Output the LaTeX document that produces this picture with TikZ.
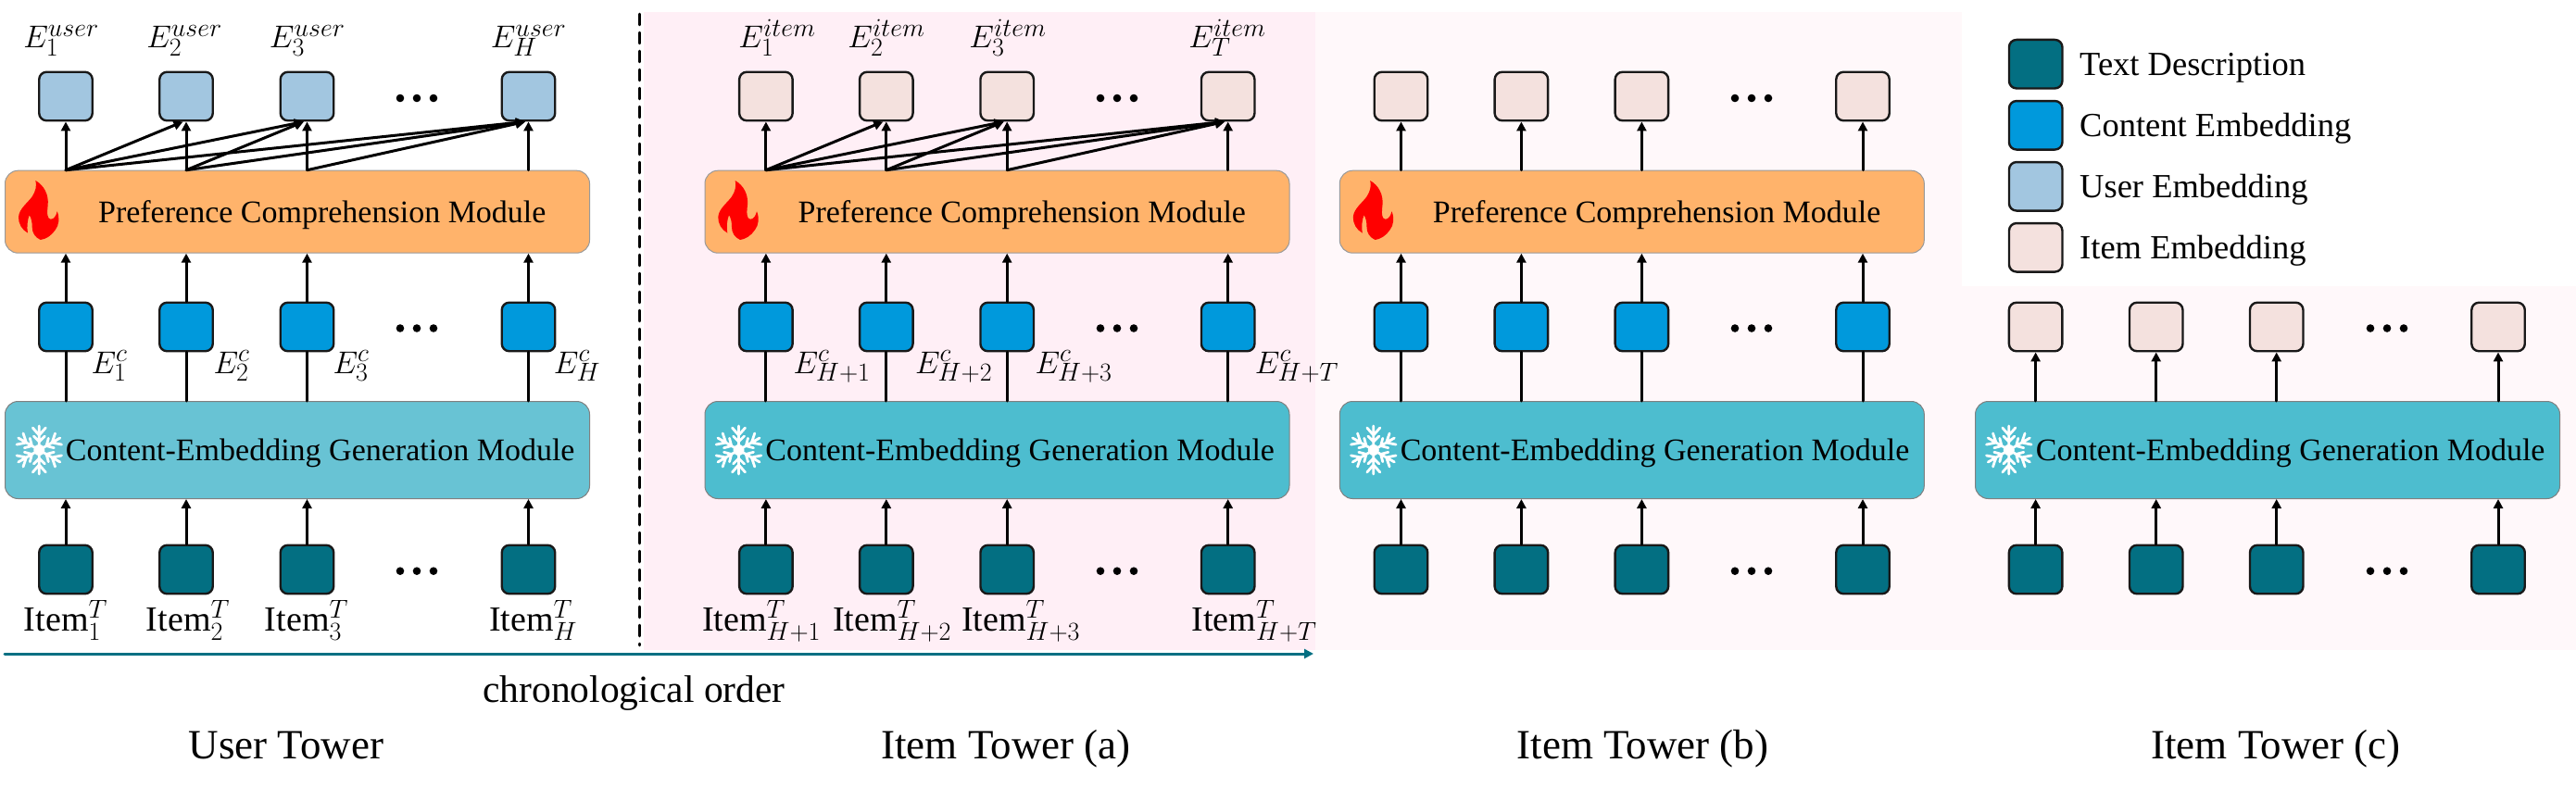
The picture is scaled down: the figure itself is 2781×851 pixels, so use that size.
\documentclass[tikz,border=0pt]{standalone}
\usepackage{fix-cm}
\usepackage{fontspec}
\setmainfont{Liberation Serif}
\usetikzlibrary{arrows.meta}
\DeclareMathSizes{34}{34}{28}{20}
\DeclareMathSizes{38}{38}{28}{20}
\definecolor{txtcol}{HTML}{036F82}
\definecolor{contcol}{HTML}{0099DC}
\definecolor{usercol}{HTML}{A2C6E0}
\definecolor{itemcol}{HTML}{F4E1DE}
\definecolor{pccol}{HTML}{FFB36B}
\definecolor{cgcol}{HTML}{4DBDCF}
\definecolor{cguser}{HTML}{68C3D4}
\definecolor{pinka}{HTML}{FFEFF6}
\definecolor{pinkb}{HTML}{FFF8FA}
\tikzset{
  cell/.style={draw=black!90,line width=2.4pt,rounded corners=8pt,minimum width=57.5pt,minimum height=52.5pt,inner sep=0pt},
  txtcell/.style={cell,fill=txtcol},
  contcell/.style={cell,fill=contcol},
  usercell/.style={cell,fill=usercol},
  itemcell/.style={cell,fill=itemcol},
  pcmod/.style={draw=black!40,line width=1pt,rounded corners=14pt,fill=pccol,minimum height=89pt,inner ysep=0pt,inner xsep=47pt,text width=537pt,align=flush right,text depth=0pt,font=\fontsize{34}{40}\selectfont},
  cgmod/.style={draw=black!50,line width=1pt,rounded corners=14pt,fill=cgcol,minimum height=105pt,inner ysep=0pt,inner xsep=16pt,text width=599pt,align=flush right,text depth=0pt,font=\fontsize{34}{40}\selectfont},
  lbl/.style={anchor=base,inner sep=0pt,font=\fontsize{34}{40}\selectfont},
  itm/.style={anchor=base,inner sep=0pt,font=\fontsize{38}{42}\selectfont},
  towercap/.style={anchor=base,inner sep=0pt,font=\fontsize{45}{50}\selectfont},
  leg/.style={anchor=base west,inner sep=0pt,font=\fontsize{36.5}{42}\selectfont},
  arw/.style={->,line width=3pt},
  lin/.style={line width=3pt},
  flame/.pic={
    \fill [red] (-3.3,-32.3) .. controls (6,-27) and (11,-17) .. (10,-6) .. controls (9,3) and (9,9) .. (13,9.5) .. controls (17,9.5) and (19,5) .. (20,1) .. controls (23,8) and (22,16) .. (18,21) .. controls (14,27) and (8,31) .. (2,31.7) .. controls (-4,29) and (-7,24) .. (-7,18) .. controls (-7,12) and (-8,8) .. (-10,5) .. controls (-12,10) and (-13,18) .. (-11.7,24.3) .. controls (-18,21) and (-22,14) .. (-21.7,7) .. controls (-21,-2) and (-12,-8) .. (-7,-15) .. controls (-3,-21) and (-2,-27) .. (-3.3,-32.3) -- cycle;
  },
  snowflake/.pic={
    \fill [white] (0,0) circle (6);
    \draw [white,line width=2.8pt,rotate=0] (0,0)--(0,-26) (-7,-24)--(0,-16)--(7,-24) (-6,-15)--(0,-9)--(6,-15);
    \draw [white,line width=2.8pt,rotate=60] (0,0)--(0,-26) (-7,-24)--(0,-16)--(7,-24) (-6,-15)--(0,-9)--(6,-15);
    \draw [white,line width=2.8pt,rotate=120] (0,0)--(0,-26) (-7,-24)--(0,-16)--(7,-24) (-6,-15)--(0,-9)--(6,-15);
    \draw [white,line width=2.8pt,rotate=180] (0,0)--(0,-26) (-7,-24)--(0,-16)--(7,-24) (-6,-15)--(0,-9)--(6,-15);
    \draw [white,line width=2.8pt,rotate=240] (0,0)--(0,-26) (-7,-24)--(0,-16)--(7,-24) (-6,-15)--(0,-9)--(6,-15);
    \draw [white,line width=2.8pt,rotate=300] (0,0)--(0,-26) (-7,-24)--(0,-16)--(7,-24) (-6,-15)--(0,-9)--(6,-15);
  },
  threedots/.pic={
    \fill [black] (-18,0) circle (4.3) (0,0) circle (4.3) (18,0) circle (4.3);
  }
}

\begin{document}
\begin{tikzpicture}[line cap=round,line join=round,>={Triangle[length=10pt,width=10pt]},x=1pt,y=-1pt]
\useasboundingbox (0,0) rectangle (2781,851);
% tinted panels
\fill [pinka] (694.5,12.7) rectangle (1420,701.7);
\fill [pinkb] (1420,12.7) rectangle (2118,701.7);
\fill [pinkb] (2118,309.3) rectangle (2781,701.7);
\draw [black,line width=2.5pt,dash pattern=on 12pt off 8pt] (690.5,15)-- (690.5,697);

% modules
\node (pcu) at (321,228.7) [pcmod] {Preference Comprehension Module};
\node (pca) at (1076.5,228.7) [pcmod] {Preference Comprehension Module};
\node (pcb) at (1761.8,228.7) [pcmod] {Preference Comprehension Module};
\node (cgu) at (321,486) [cgmod,fill=cguser] {Content-Embedding Generation Module};
\node (cga) at (1076.5,486) [cgmod] {Content-Embedding Generation Module};
\node (cgb) at (1761.8,486) [cgmod] {Content-Embedding Generation Module};
\node (cgc) at (2448,486) [cgmod] {Content-Embedding Generation Module};

% user tower
\node (eu1) at (71,104) [usercell] {};
\node (eu2) at (201,104) [usercell] {};
\node (eu3) at (331.5,104) [usercell] {};
\node (eu4) at (570.5,104) [usercell] {};
\node (cu1) at (71,353) [contcell] {};
\node (cu2) at (201,353) [contcell] {};
\node (cu3) at (331.5,353) [contcell] {};
\node (cu4) at (570.5,353) [contcell] {};
\node (tu1) at (71,615) [txtcell] {};
\node (tu2) at (201,615) [txtcell] {};
\node (tu3) at (331.5,615) [txtcell] {};
\node (tu4) at (570.5,615) [txtcell] {};

% item tower a
\node (ea1) at (826.9,104) [itemcell] {};
\node (ea2) at (956.8,104) [itemcell] {};
\node (ea3) at (1087.2,104) [itemcell] {};
\node (ea4) at (1325.7,104) [itemcell] {};
\node (ca1) at (826.9,353) [contcell] {};
\node (ca2) at (956.8,353) [contcell] {};
\node (ca3) at (1087.2,353) [contcell] {};
\node (ca4) at (1325.7,353) [contcell] {};
\node (ta1) at (826.9,615) [txtcell] {};
\node (ta2) at (956.8,615) [txtcell] {};
\node (ta3) at (1087.2,615) [txtcell] {};
\node (ta4) at (1325.7,615) [txtcell] {};

% item tower b
\node (eb1) at (1512.5,104) [itemcell] {};
\node (eb2) at (1642.4,104) [itemcell] {};
\node (eb3) at (1772.4,104) [itemcell] {};
\node (eb4) at (2011,104) [itemcell] {};
\node (cb1) at (1512.5,353) [contcell] {};
\node (cb2) at (1642.4,353) [contcell] {};
\node (cb3) at (1772.4,353) [contcell] {};
\node (cb4) at (2011,353) [contcell] {};
\node (tb1) at (1512.5,615) [txtcell] {};
\node (tb2) at (1642.4,615) [txtcell] {};
\node (tb3) at (1772.4,615) [txtcell] {};
\node (tb4) at (2011,615) [txtcell] {};

% item tower c
\node (ec1) at (2197.6,353) [itemcell] {};
\node (ec2) at (2327.7,353) [itemcell] {};
\node (ec3) at (2457.7,353) [itemcell] {};
\node (ec4) at (2697,353) [itemcell] {};
\node (tc1) at (2197.6,615) [txtcell] {};
\node (tc2) at (2327.7,615) [txtcell] {};
\node (tc3) at (2457.7,615) [txtcell] {};
\node (tc4) at (2697,615) [txtcell] {};

% connectors
\draw [arw] (pcu.north -| eu1)-- (eu1.south);
\draw [arw] (pcu.north -| eu2)-- (eu2.south);
\draw [arw] (pcu.north -| eu3)-- (eu3.south);
\draw [arw] (pcu.north -| eu4)-- (eu4.south);
\draw [arw] (pcu.north -| eu1)-- ([xshift=-3.5pt]eu2.south);
\draw [arw] (pcu.north -| eu1)-- ([xshift=-3.5pt]eu3.south);
\draw [arw] (pcu.north -| eu1)-- ([xshift=-3.5pt]eu4.south);
\draw [arw] (pcu.north -| eu2)-- ([xshift=-3.5pt]eu3.south);
\draw [arw] (pcu.north -| eu2)-- ([xshift=-3.5pt]eu4.south);
\draw [arw] (pcu.north -| eu3)-- ([xshift=-3.5pt]eu4.south);
\draw [arw] (cu1.north)-- (pcu.south -| cu1);
\draw [arw] (cu2.north)-- (pcu.south -| cu2);
\draw [arw] (cu3.north)-- (pcu.south -| cu3);
\draw [arw] (cu4.north)-- (pcu.south -| cu4);
\draw [lin] (cgu.north -| cu1)-- (cu1.south);
\draw [lin] (cgu.north -| cu2)-- (cu2.south);
\draw [lin] (cgu.north -| cu3)-- (cu3.south);
\draw [lin] (cgu.north -| cu4)-- (cu4.south);
\draw [arw] (tu1.north)-- (cgu.south -| tu1);
\draw [arw] (tu2.north)-- (cgu.south -| tu2);
\draw [arw] (tu3.north)-- (cgu.south -| tu3);
\draw [arw] (tu4.north)-- (cgu.south -| tu4);

\draw [arw] (pca.north -| ea1)-- (ea1.south);
\draw [arw] (pca.north -| ea2)-- (ea2.south);
\draw [arw] (pca.north -| ea3)-- (ea3.south);
\draw [arw] (pca.north -| ea4)-- (ea4.south);
\draw [arw] (pca.north -| ea1)-- ([xshift=-3.5pt]ea2.south);
\draw [arw] (pca.north -| ea1)-- ([xshift=-3.5pt]ea3.south);
\draw [arw] (pca.north -| ea1)-- ([xshift=-3.5pt]ea4.south);
\draw [arw] (pca.north -| ea2)-- ([xshift=-3.5pt]ea3.south);
\draw [arw] (pca.north -| ea2)-- ([xshift=-3.5pt]ea4.south);
\draw [arw] (pca.north -| ea3)-- ([xshift=-3.5pt]ea4.south);
\draw [arw] (ca1.north)-- (pca.south -| ca1);
\draw [arw] (ca2.north)-- (pca.south -| ca2);
\draw [arw] (ca3.north)-- (pca.south -| ca3);
\draw [arw] (ca4.north)-- (pca.south -| ca4);
\draw [lin] (cga.north -| ca1)-- (ca1.south);
\draw [lin] (cga.north -| ca2)-- (ca2.south);
\draw [lin] (cga.north -| ca3)-- (ca3.south);
\draw [lin] (cga.north -| ca4)-- (ca4.south);
\draw [arw] (ta1.north)-- (cga.south -| ta1);
\draw [arw] (ta2.north)-- (cga.south -| ta2);
\draw [arw] (ta3.north)-- (cga.south -| ta3);
\draw [arw] (ta4.north)-- (cga.south -| ta4);

\draw [arw] (pcb.north -| eb1)-- (eb1.south);
\draw [arw] (pcb.north -| eb2)-- (eb2.south);
\draw [arw] (pcb.north -| eb3)-- (eb3.south);
\draw [arw] (pcb.north -| eb4)-- (eb4.south);
\draw [arw] (cb1.north)-- (pcb.south -| cb1);
\draw [arw] (cb2.north)-- (pcb.south -| cb2);
\draw [arw] (cb3.north)-- (pcb.south -| cb3);
\draw [arw] (cb4.north)-- (pcb.south -| cb4);
\draw [lin] (cgb.north -| cb1)-- (cb1.south);
\draw [lin] (cgb.north -| cb2)-- (cb2.south);
\draw [lin] (cgb.north -| cb3)-- (cb3.south);
\draw [lin] (cgb.north -| cb4)-- (cb4.south);
\draw [arw] (tb1.north)-- (cgb.south -| tb1);
\draw [arw] (tb2.north)-- (cgb.south -| tb2);
\draw [arw] (tb3.north)-- (cgb.south -| tb3);
\draw [arw] (tb4.north)-- (cgb.south -| tb4);

\draw [arw] (cgc.north -| ec1)-- (ec1.south);
\draw [arw] (cgc.north -| ec2)-- (ec2.south);
\draw [arw] (cgc.north -| ec3)-- (ec3.south);
\draw [arw] (cgc.north -| ec4)-- (ec4.south);
\draw [arw] (tc1.north)-- (cgc.south -| tc1);
\draw [arw] (tc2.north)-- (cgc.south -| tc2);
\draw [arw] (tc3.north)-- (cgc.south -| tc3);
\draw [arw] (tc4.north)-- (cgc.south -| tc4);

% icons
\pic at (41.7,227.3) {flame};
\pic at (797,227.3) {flame};
\pic at (1482.5,227.3) {flame};
\pic at (42.3,486) {snowflake};
\pic at (797.5,486) {snowflake};
\pic at (1482.8,486) {snowflake};
\pic at (2168.8,486) {snowflake};

% dots
\pic at (450,106) {threedots};
\pic at (450,354.5) {threedots};
\pic at (450,616.7) {threedots};
\pic at (1206,106) {threedots};
\pic at (1206,354.5) {threedots};
\pic at (1206,616.7) {threedots};
\pic at (1891,106) {threedots};
\pic at (1891,354.5) {threedots};
\pic at (1891,616.7) {threedots};
\pic at (2577,354.5) {threedots};
\pic at (2577,616.7) {threedots};

% labels
\node (lu1) at (66,52) [lbl] {$E_1^{user}$};
\node (lu2) at (199,52) [lbl] {$E_2^{user}$};
\node (lu3) at (331.7,52) [lbl] {$E_3^{user}$};
\node (lu4) at (570.5,52) [lbl] {$E_H^{user}$};
\node (la1) at (839,52) [lbl] {$E_1^{item}$};
\node (la2) at (957,52) [lbl] {$E_2^{item}$};
\node (la3) at (1088,52) [lbl] {$E_3^{item}$};
\node (la4) at (1325,52) [lbl] {$E_T^{item}$};
\node (lc1) at (118,403) [lbl] {$E_1^c$};
\node (lc2) at (250,403) [lbl] {$E_2^c$};
\node (lc3) at (379,403) [lbl] {$E_3^c$};
\node (lc4) at (623,403) [lbl] {$E_H^c$};
\node (lc5) at (898,403) [lbl] {$E_{H+1}^c$};
\node (lc6) at (1029.6,403) [lbl] {$E_{H+2}^c$};
\node (lc7) at (1159,403) [lbl] {$E_{H+3}^c$};
\node (lc8) at (1400,403) [lbl] {$E_{H+T}^c$};
\node (li1) at (71,681.7) [itm] {Item$_1^T$};
\node (li2) at (203,681.7) [itm] {Item$_2^T$};
\node (li3) at (331,681.7) [itm] {Item$_3^T$};
\node (li4) at (575.6,681.7) [itm] {Item$_H^T$};
\node (li5) at (822,681.7) [itm] {Item$_{H+1}^T$};
\node (li6) at (963,681.7) [itm] {Item$_{H+2}^T$};
\node (li7) at (1102,681.7) [itm] {Item$_{H+3}^T$};
\node (li8) at (1354,681.7) [itm] {Item$_{H+T}^T$};

% time axis
\coordinate (tstart) at (5,706);
\coordinate (tend) at (1418,706);
\draw [->,txtcol,line width=3pt] (tstart)-- (tend);
\node (torder) at (684.5,758) [anchor=base,inner sep=0pt,font=\fontsize{41.5}{46}\selectfont] {chronological order};

% captions
\node (capu) at (309,819) [towercap] {User Tower};
\node (capa) at (1086,819) [towercap] {Item Tower (a)};
\node (capb) at (1773.5,819) [towercap] {Item Tower (b)};
\node (capc) at (2457,819) [towercap] {Item Tower (c)};

% legend
\node (kt) at (2197.7,69.2) [txtcell] {};
\node (kc) at (2197.7,135.3) [contcell] {};
\node (ku) at (2197.7,201.3) [usercell] {};
\node (ki) at (2197.7,267.3) [itemcell] {};
\node (ltt) at (2245,81.7) [leg] {Text Description};
\node (ltc) at (2245,147.7) [leg] {Content Embedding};
\node (ltu) at (2245,213) [leg] {User Embedding};
\node (lti) at (2245,279) [leg] {Item Embedding};
\end{tikzpicture}
\end{document}
